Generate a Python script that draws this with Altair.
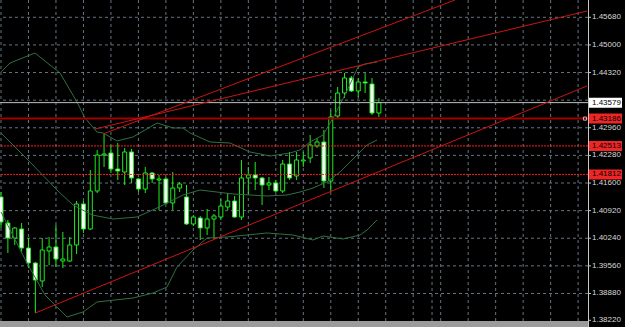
import altair as alt
import pandas as pd

# ---------------- data ----------------
bars = list(range(56))
opens = [1.41256, 1.40616, 1.40246, 1.40468, 1.40000, 1.39631, 1.39188, 1.39926, 1.40025, 1.39680,
         1.39680, 1.40074, 1.41084, 1.40468, 1.41404, 1.42290, 1.42339, 1.41945, 1.41871, 1.42364,
         1.41699, 1.41453, 1.41847, 1.41674, 1.41699, 1.41108, 1.41477, 1.41256, 1.40591, 1.40739,
         1.40493, 1.40714, 1.40763, 1.41010, 1.41157, 1.40763, 1.41724, 1.41798, 1.41724, 1.41551,
         1.41601, 1.41404, 1.42068, 1.41773, 1.42142, 1.42216, 1.42512, 1.42610, 1.41650, 1.43250,
         1.43816, 1.44186, 1.43866, 1.44087, 1.44038, 1.43324]
highs = [1.41379, 1.40690, 1.40517, 1.40616, 1.40246, 1.39656, 1.40246, 1.40271, 1.40567, 1.40394,
         1.40271, 1.41157, 1.41157, 1.41921, 1.42413, 1.42807, 1.42536, 1.42585, 1.42462, 1.42438,
         1.41724, 1.41995, 1.41871, 1.41798, 1.41748, 1.41871, 1.41625, 1.41551, 1.40813, 1.40788,
         1.40960, 1.40837, 1.41207, 1.41354, 1.41281, 1.42167, 1.41995, 1.42118, 1.41748, 1.41748,
         1.41674, 1.42167, 1.42364, 1.42364, 1.42364, 1.42782, 1.42708, 1.42905, 1.43398, 1.43964,
         1.44309, 1.44235, 1.44186, 1.44309, 1.44186, 1.43693]
lows = [1.40493, 1.39877, 1.40074, 1.39902, 1.39508, 1.38400, 1.39040, 1.39582, 1.39532, 1.39508,
        1.39656, 1.39853, 1.40370, 1.40443, 1.41354, 1.41995, 1.41847, 1.41674, 1.41551, 1.41601,
        1.41379, 1.41354, 1.41601, 1.40936, 1.41084, 1.40936, 1.41379, 1.40567, 1.40542, 1.40197,
        1.40320, 1.40246, 1.40690, 1.40936, 1.40739, 1.40690, 1.41305, 1.41428, 1.41059, 1.41428,
        1.41379, 1.41354, 1.41674, 1.41674, 1.41995, 1.42093, 1.42462, 1.41477, 1.41379, 1.43201,
        1.43693, 1.43841, 1.43718, 1.43816, 1.43275, 1.43226]
closes = [1.40640, 1.40246, 1.40493, 1.40000, 1.39631, 1.39212, 1.39951, 1.40025, 1.39729, 1.39729,
          1.40074, 1.41084, 1.40468, 1.41404, 1.42290, 1.42315, 1.41945, 1.41896, 1.42364, 1.41724,
          1.41453, 1.41847, 1.41699, 1.41699, 1.41108, 1.41477, 1.41576, 1.40591, 1.40763, 1.40493,
          1.40714, 1.40788, 1.41034, 1.41157, 1.40763, 1.41724, 1.41798, 1.41724, 1.41551, 1.41601,
          1.41404, 1.42068, 1.41724, 1.42167, 1.42167, 1.42536, 1.42610, 1.41650, 1.43226, 1.43816,
          1.44186, 1.43866, 1.44087, 1.44063, 1.43324, 1.43579]

# Bollinger bands (vertices read at bar positions)
upper_bar = [0, 1.31, 4.95, 8.59, 11.06, 12.23, 13.97, 14.85, 16.88, 19.21, 22.71, 25.04, 26.49, 27.51,
             30.42, 33.33, 36.24, 39.16, 42.07, 43.52, 44.98, 46.87, 48.33, 50.07, 51.97, 52.98, 54.73]
upper_val = [1.44333, 1.44555, 1.44801, 1.44309, 1.43595, 1.43201, 1.42856, 1.42832, 1.42635, 1.42733,
             1.43078, 1.42955, 1.42955, 1.42832, 1.42610, 1.42585, 1.42364, 1.42265, 1.42339, 1.42413,
             1.42610, 1.42782, 1.43201, 1.43767, 1.44456, 1.44530, 1.44580]
middle_bar = [0, 3.93, 8.15, 10.48, 13.25, 16.30, 19.80, 22.71, 26.49, 28.97, 33.77, 38.72, 41.63,
              43.52, 45.41, 47.45, 49.35, 51.82, 53.28, 54.73]
middle_val = [1.42832, 1.42167, 1.41428, 1.41059, 1.40813, 1.40714, 1.40763, 1.40985, 1.41305, 1.41428,
              1.41330, 1.41281, 1.41305, 1.41379, 1.41477, 1.41625, 1.41871, 1.42290, 1.42536, 1.42659]
lower_bar = [0, 3.78, 6.40, 9.61, 11.94, 13.97, 19.21, 22.13, 24.16, 25.62, 27.95, 29.99, 32.90,
             38.72, 42.50, 45.41, 46.87, 49.78, 52.26, 53.28, 54.73]
lower_val = [1.40887, 1.39631, 1.38843, 1.38302, 1.38425, 1.38671, 1.38769, 1.38892, 1.39040, 1.39532,
             1.39951, 1.40246, 1.40271, 1.40370, 1.40320, 1.40197, 1.40296, 1.40222, 1.40320, 1.40443,
             1.40690]

# trend lines: (bar, price) -> (bar, price)
trend_names = ["upper1", "upper2", "lower"]
trend_bar1 = [13.68, 14.85, 5.0]
trend_p1 = [1.42930, 1.42807, 1.38400]
trend_bar2 = [85.30, 66.08, 85.30]
trend_p2 = [1.45835, 1.46106, 1.43989]

# horizontal levels
solid_level = [1.43186]
dotted_levels = [1.42513, 1.41812]
bid_level = [1.43579]

# price axis
tick_labels = [1.45680, 1.45000, 1.44320, 1.42960, 1.42280, 1.41600, 1.40920,
               1.40240, 1.39560, 1.38880, 1.38220]
grid_prices = [1.45680, 1.45000, 1.44320, 1.43640, 1.42960, 1.42280, 1.41600, 1.40920,
               1.40240, 1.39560, 1.38880]
grid_bars = [0, 4, 8, 12, 16, 20, 24, 28, 32, 36, 40, 44, 48, 52, 56, 60, 62.74, 64,
             68, 72, 76, 80, 84]

# ---------------- frames ----------------
candles = pd.DataFrame({"bar": bars, "open": opens, "high": highs, "low": lows, "close": closes})
bands = pd.concat([
    pd.DataFrame({"band": "upper", "bar": upper_bar, "price": upper_val}),
    pd.DataFrame({"band": "middle", "bar": middle_bar, "price": middle_val}),
    pd.DataFrame({"band": "lower", "bar": lower_bar, "price": lower_val}),
])
trends = pd.DataFrame({"name": trend_names, "b1": trend_bar1, "p1": trend_p1,
                       "b2": trend_bar2, "p2": trend_p2})
ticks = pd.DataFrame({"price": tick_labels})
ticks["label"] = ticks["price"].map(lambda v: f"{v:.5f}")
red_boxes = pd.DataFrame({"price": solid_level + dotted_levels})
red_boxes["label"] = red_boxes["price"].map(lambda v: f"{v:.5f}")
bid_box = pd.DataFrame({"price": bid_level})
bid_box["label"] = bid_box["price"].map(lambda v: f"{v:.5f}")

XS = alt.Scale(domain=[-0.1456, 85.44], nice=False, zero=False, padding=0)
YS = alt.Scale(domain=[1.38055, 1.46106], nice=False, zero=False, padding=0)


def X(f="bar"):
    return alt.X(f"{f}:Q", scale=XS, axis=None)


def Y(f="price"):
    return alt.Y(f"{f}:Q", scale=YS, axis=None)


GRID = "#778899"
LIME = "#1eea1e"
BAND = "#2f7040"
FONT = "Liberation Sans"

vgrid = alt.Chart(pd.DataFrame({"bar": grid_bars})).mark_rule(
    color=GRID, strokeDash=[3, 3], strokeWidth=1, opacity=0.85).encode(x=X())
hgrid = alt.Chart(pd.DataFrame({"price": grid_prices})).mark_rule(
    color=GRID, strokeDash=[3, 3], strokeWidth=1, opacity=0.85).encode(y=Y())

wicks = alt.Chart(candles).mark_rule(color=LIME, strokeWidth=1).encode(
    x=X(), y=Y("low"), y2="high:Q")
bodies = alt.Chart(candles).mark_bar(size=4, stroke=LIME, strokeWidth=1).encode(
    x=X(), y=Y("open"), y2="close:Q",
    fill=alt.condition("datum.close >= datum.open", alt.value("#000000"), alt.value("#ffffff")))

band_lines = alt.Chart(bands).mark_line(color=BAND, strokeWidth=1).encode(
    x=X(), y=Y(), detail="band:N")

bid_line = alt.Chart(pd.DataFrame({"price": bid_level})).mark_rule(
    color="#c0c0c0", strokeWidth=1).encode(y=Y())
solid_line = alt.Chart(pd.DataFrame({"price": solid_level})).mark_rule(
    color="#a00000", strokeWidth=2).encode(y=Y())
dotted_lines = alt.Chart(pd.DataFrame({"price": dotted_levels})).mark_rule(
    color="#ff1a1a", strokeWidth=1, strokeDash=[2, 1]).encode(y=Y())

trend_lines = alt.Chart(trends).mark_rule(color="#cc1414", strokeWidth=1, clip=True).encode(
    x=X("b1"), y=Y("p1"), x2="b2:Q", y2="p2:Q")

handle = alt.Chart(pd.DataFrame({"bar": [85.0], "price": solid_level})).mark_point(
    shape="square", size=10, filled=False, color="#ffffff", strokeWidth=1).encode(x=X(), y=Y())

strip = alt.Chart(pd.DataFrame({"k": [0]})).mark_rect(color="#9c9c9c").encode(
    x=alt.value(0), x2=alt.value(588), y=alt.value(321), y2=alt.value(327))

# price axis drawn as marks
axis_line = alt.Chart(pd.DataFrame({"k": [0]})).mark_rule(color="#c8c8c8", strokeWidth=1).encode(
    x=alt.value(588.5), y=alt.value(0), y2=alt.value(327))
axis_ticks = alt.Chart(ticks).mark_rule(color="#c8c8c8", strokeWidth=1).encode(
    x=alt.value(588), x2=alt.value(591), y=Y())
axis_labels = alt.Chart(ticks).mark_text(align="left", baseline="middle", font=FONT,
                                         fontSize=8, color="#d8d8d8").encode(
    x=alt.value(592), y=Y(), text="label:N")

red_tag = alt.Chart(red_boxes).mark_tick(orient="horizontal", size=33, thickness=10,
                                         color="#ee2626", opacity=1).encode(
    x=alt.value(605.5), y=Y())
red_txt = alt.Chart(red_boxes).mark_text(align="left", baseline="middle", font=FONT,
                                         fontSize=8, color="#000000").encode(
    x=alt.value(592), y=Y(), text="label:N")
bid_tag = alt.Chart(bid_box).mark_tick(orient="horizontal", size=33, thickness=10,
                                       color="#ffffff", opacity=1).encode(
    x=alt.value(605.5), y=Y())
bid_txt = alt.Chart(bid_box).mark_text(align="left", baseline="middle", font=FONT,
                                       fontSize=8, color="#000000").encode(
    x=alt.value(592), y=Y(), text="label:N")

chart = alt.layer(
    vgrid, hgrid, wicks, bodies, band_lines, bid_line, dotted_lines, solid_line,
    trend_lines, handle, strip, axis_line, axis_ticks, axis_labels,
    red_tag, red_txt, bid_tag, bid_txt
).properties(
    width=588, height=327,
    autosize=alt.AutoSizeParams(type="none"),
    padding={"left": 0, "top": 0, "right": 37, "bottom": 0},
    background="#000000",
).configure_view(stroke=None, fill="#000000")

chart.save("out.html", embed_options={"renderer": "svg", "actions": False})
